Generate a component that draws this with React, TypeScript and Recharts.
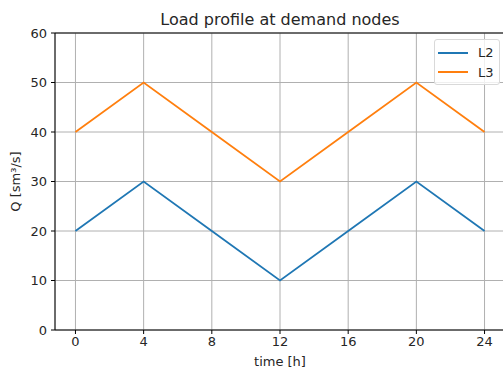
import React from 'react';
import { LineChart, Line, XAxis, YAxis, CartesianGrid, ReferenceLine, Label } from 'recharts';

// hourly load at each demand node
const hours = [0, 4, 8, 12, 16, 20, 24];
const loadL2 = [20, 30, 20, 10, 20, 30, 20];
const loadL3 = [40, 50, 40, 30, 40, 50, 40];
const xTicks = [0, 4, 8, 12, 16, 20, 24];
const yTicks = [0, 10, 20, 30, 40, 50, 60];

const data = hours.map((t, i) => ({ t, L2: loadL2[i], L3: loadL3[i] }));

const font = '"DejaVu Sans", sans-serif';
const textColor = '#262626';

const series = [
  { key: 'L2', color: '#1f77b4' },
  { key: 'L3', color: '#ff7f0e' },
];

function LegendBox() {
  return (
    <div
      style={{
        position: 'absolute',
        left: 434,
        top: 39,
        width: 66,
        boxSizing: 'border-box',
        border: '1px solid #d9d9d9',
        borderRadius: 3,
        background: 'rgba(255,255,255,0.8)',
        padding: '3px 0 2px 3px',
        fontFamily: font,
        fontSize: 13,
        color: textColor,
      }}
    >
      {series.map((s) => (
        <div key={s.key} style={{ display: 'flex', alignItems: 'center', height: 19.5 }}>
          <svg width={30} height={4} style={{ marginRight: 10 }}>
            <line x1={0} y1={2} x2={30} y2={2} stroke={s.color} strokeWidth={2} />
          </svg>
          <span>{s.key}</span>
        </div>
      ))}
    </div>
  );
}

export default function App() {
  return (
    <div style={{ position: 'absolute', left: 0, top: 0, width: 503, height: 378, overflow: 'hidden', background: '#fff' }}>
      <div
        style={{
          position: 'absolute',
          left: 55,
          width: 450,
          top: 10,
          textAlign: 'center',
          fontFamily: font,
          fontSize: 16,
          lineHeight: 'normal',
          color: textColor,
        }}
      >
        Load profile at demand nodes
      </div>
      <LineChart width={506} height={378} data={data} margin={{ top: 33, right: 1, bottom: 8, left: 5 }}>
        <CartesianGrid stroke="#b0b0b0" strokeWidth={1} />
        <XAxis
          dataKey="t"
          type="number"
          domain={[-1.2, 25.2]}
          ticks={xTicks}
          allowDataOverflow
          height={40}
          tickSize={4}
          tickMargin={3}
          stroke="#000"
          tick={{ fill: textColor, fontSize: 13, fontFamily: font }}
        >
          <Label value="time [h]" position="insideBottom" offset={4} style={{ fill: textColor, fontSize: 13, fontFamily: font }} />
        </XAxis>
        <YAxis
          type="number"
          domain={[0, 60]}
          ticks={yTicks}
          width={50}
          tickSize={4}
          tickMargin={4}
          stroke="#000"
          tick={{ fill: textColor, fontSize: 13, fontFamily: font }}
        >
          <Label
            value="Q [sm³/s]"
            angle={-90}
            position="insideLeft"
            offset={10}
            style={{ fill: textColor, fontSize: 13, fontFamily: font, textAnchor: 'middle' }}
          />
        </YAxis>
        <ReferenceLine y={60} stroke="#000" />
        <ReferenceLine x={25.2} stroke="#000" />
        {series.map((s) => (
          <Line
            key={s.key}
            type="linear"
            dataKey={s.key}
            stroke={s.color}
            strokeWidth={1.8}
            dot={false}
            isAnimationActive={false}
          />
        ))}
      </LineChart>
      <LegendBox />
    </div>
  );
}
